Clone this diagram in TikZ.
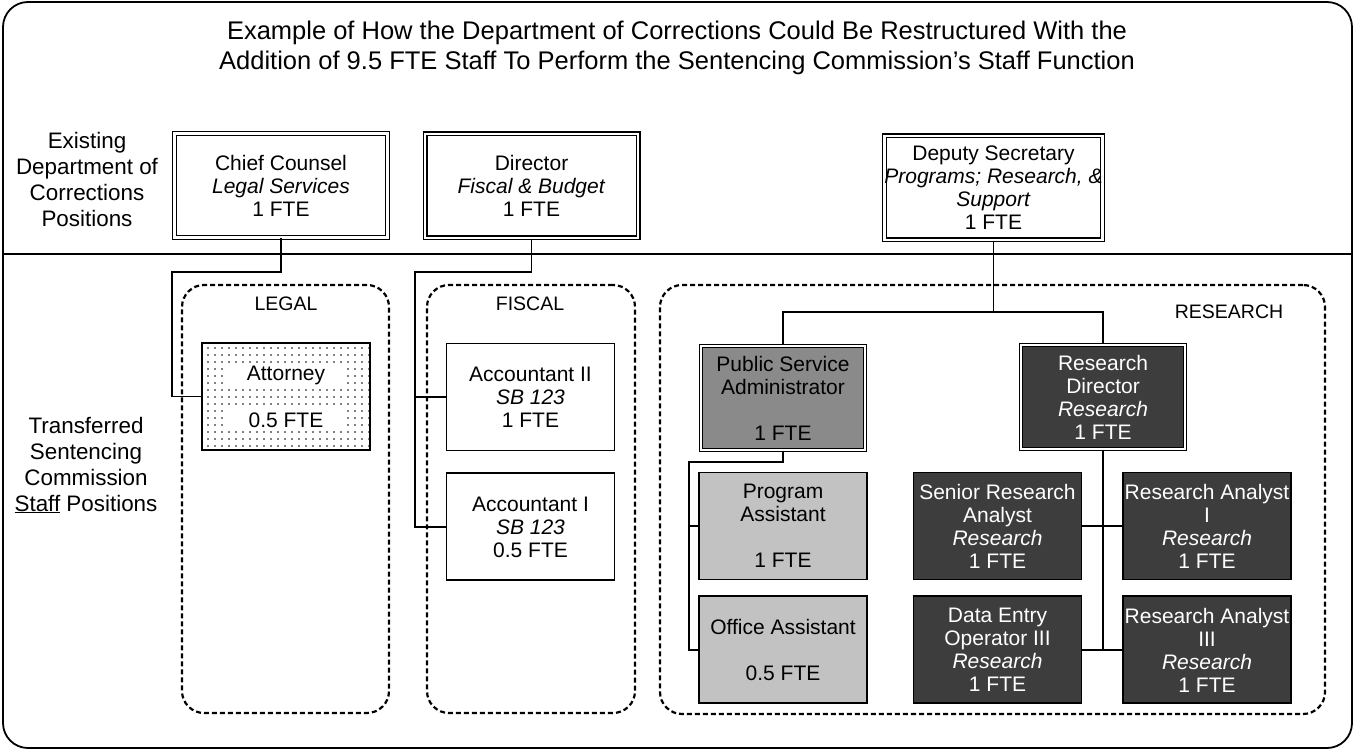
\documentclass[tikz,border=0pt]{standalone}
\usepackage{fontspec}
\setmainfont{Liberation Sans}
\usepackage{tikz}
\newcommand\orgtitlefont{\fontsize{25.5}{29.5}\selectfont}
\newcommand\orgsidefont{\fontsize{22.4}{26}\selectfont}
\newcommand\orgboxfont{\fontsize{21}{23}\selectfont}
\newcommand\orgheadfont{\fontsize{19.5}{23}\selectfont}
\newcommand\clearrow[1]{\colorbox{white}{\makebox[116pt]{#1}}}
\tikzstyle{group} = [draw,line width=2.2pt,dash pattern=on 5pt off 3pt,rounded corners=22pt]
\tikzstyle{link} = [line width=1.6pt]
\usetikzlibrary{positioning}
\usetikzlibrary{patterns.meta}

\begin{document}
\begin{tikzpicture}[x=1pt,y=-1pt,
    title node/.style={font=\orgtitlefont,align=center},
    side node/.style={font=\orgsidefont,align=center},
    head node/.style={font=\orgheadfont},
    top node/.style={draw,double,line width=1.2pt,double distance=2.6pt,
      minimum width=213pt,minimum height=104pt,align=center,font=\orgboxfont,inner sep=0pt},
    staff node/.style={draw,line width=1.9pt,minimum width=168pt,minimum height=107pt,
      align=center,font=\orgboxfont,inner sep=0pt},
    light node/.style={staff node,fill=black!24},
    lead node/.style={staff node,double,line width=1.2pt,double distance=2.2pt,
      minimum width=164pt,minimum height=104pt},
    dark node/.style={staff node,fill=black!76,text=white}]

  \useasboundingbox (0,0) rectangle (1356,751);
  \draw[line width=1.8pt,rounded corners=25pt] (3,2) rectangle (1352,748);
  \draw[line width=2.6pt] (3,254) -- (1352,254);

  \node[title node] (T) at (677,48) {Example of How the Department of Corrections Could Be Restructured With the\\
    Addition of 9.5 FTE Staff To Perform the Sentencing Commission's Staff Function};
  \node[side node] (EX) at (87,179) {Existing\\Department of\\Corrections\\Positions};
  \node[side node] (TR) at (86,465) {Transferred\\Sentencing\\Commission\\\underline{Staff} Positions};

  % existing positions
  \node[top node] (CC) at (281,185.5) {Chief Counsel\\\textit{Legal Services}\\1 FTE};
  \node[top node] (DIR) at (531.5,186) {Director\\\textit{Fiscal \& Budget}\\1 FTE};
  \node[top node] (DEP) at (993.5,188) {Deputy Secretary\\\textit{Programs; Research, \&}\\\textit{Support}\\1 FTE};

  % groups
  \node[group,minimum width=207pt,minimum height=428pt] (LEG) at (285.5,499) {};
  \node[group,minimum width=208pt,minimum height=428pt] (FIS) at (531,499) {};
  \node[group,minimum width=665pt,minimum height=429pt] (RES) at (992.5,499.5) {};
  \node[head node] (LEGH) at (286,304) {LEGAL};
  \node[head node] (FISH) at (530,304) {FISCAL};
  \node[head node] (RESH) at (1229,312) {RESEARCH};

  \node[staff node,pattern={Dots[radius=0.9pt,distance=6.5pt]}] (ATT) at (286,396.5)
    {\clearrow{Attorney}\\[21pt]\clearrow{0.5 FTE}};

  \node[staff node] (ACC2) at (530.5,397) {Accountant II\\\textit{SB 123}\\1 FTE};
  \node[staff node] (ACC1) [below=21pt of ACC2] {Accountant I\\\textit{SB 123}\\0.5 FTE};

  \node[lead node,fill=black!46] (PSA) at (783,398) {Public Service\\Administrator\\[23pt]1 FTE};
  \node[light node] (PA) at (783,526) {Program\\Assistant\\[23pt]1 FTE};
  \node[light node] (OA) [below=15pt of PA] {Office Assistant\\[23pt]0.5 FTE};

  \node[lead node,fill=black!76,text=white] (RD) at (1103,397) {Research\\Director\\\textit{Research}\\1 FTE};
  \node[dark node] (SRA) at (997.5,526) {Senior Research\\Analyst\\\textit{Research}\\1 FTE};
  \node[dark node] (RA1) at (1207,526) {Research Analyst\\I\\\textit{Research}\\1 FTE};
  \node[dark node] (DEO) [below=15pt of SRA] {Data Entry\\Operator III\\\textit{Research}\\1 FTE};
  \node[dark node] (RA3) [below=15pt of RA1] {Research Analyst\\III\\\textit{Research}\\1 FTE};

  \coordinate (LB) at (172,272);
  \coordinate (FB) at (415,272);
  \coordinate (RB) at (993.5,312);
  \coordinate (AB) at (689,462);

  \draw[link] (CC.south) |- (LB) |- (ATT.west);
  \draw[link] (DIR.south) |- (FB) |- (ACC1.west);
  \draw[link] (FB |- ACC2.west) -- (ACC2.west);
  \draw[link] (DEP.south) -- (RB);
  \draw[link] (PSA.north) |- (RB) -| (RD.north);
  \draw[link] (PSA.south) |- (AB) |- (OA.west);
  \draw[link] (AB |- PA.west) -- (PA.west);
  \draw[link] (RD.south) |- (DEO.east);
  \foreach \a/\b in {SRA/RA1,DEO/RA3}{\draw[link] (\a.east) -- (\b.west);}
\end{tikzpicture}
\end{document}
